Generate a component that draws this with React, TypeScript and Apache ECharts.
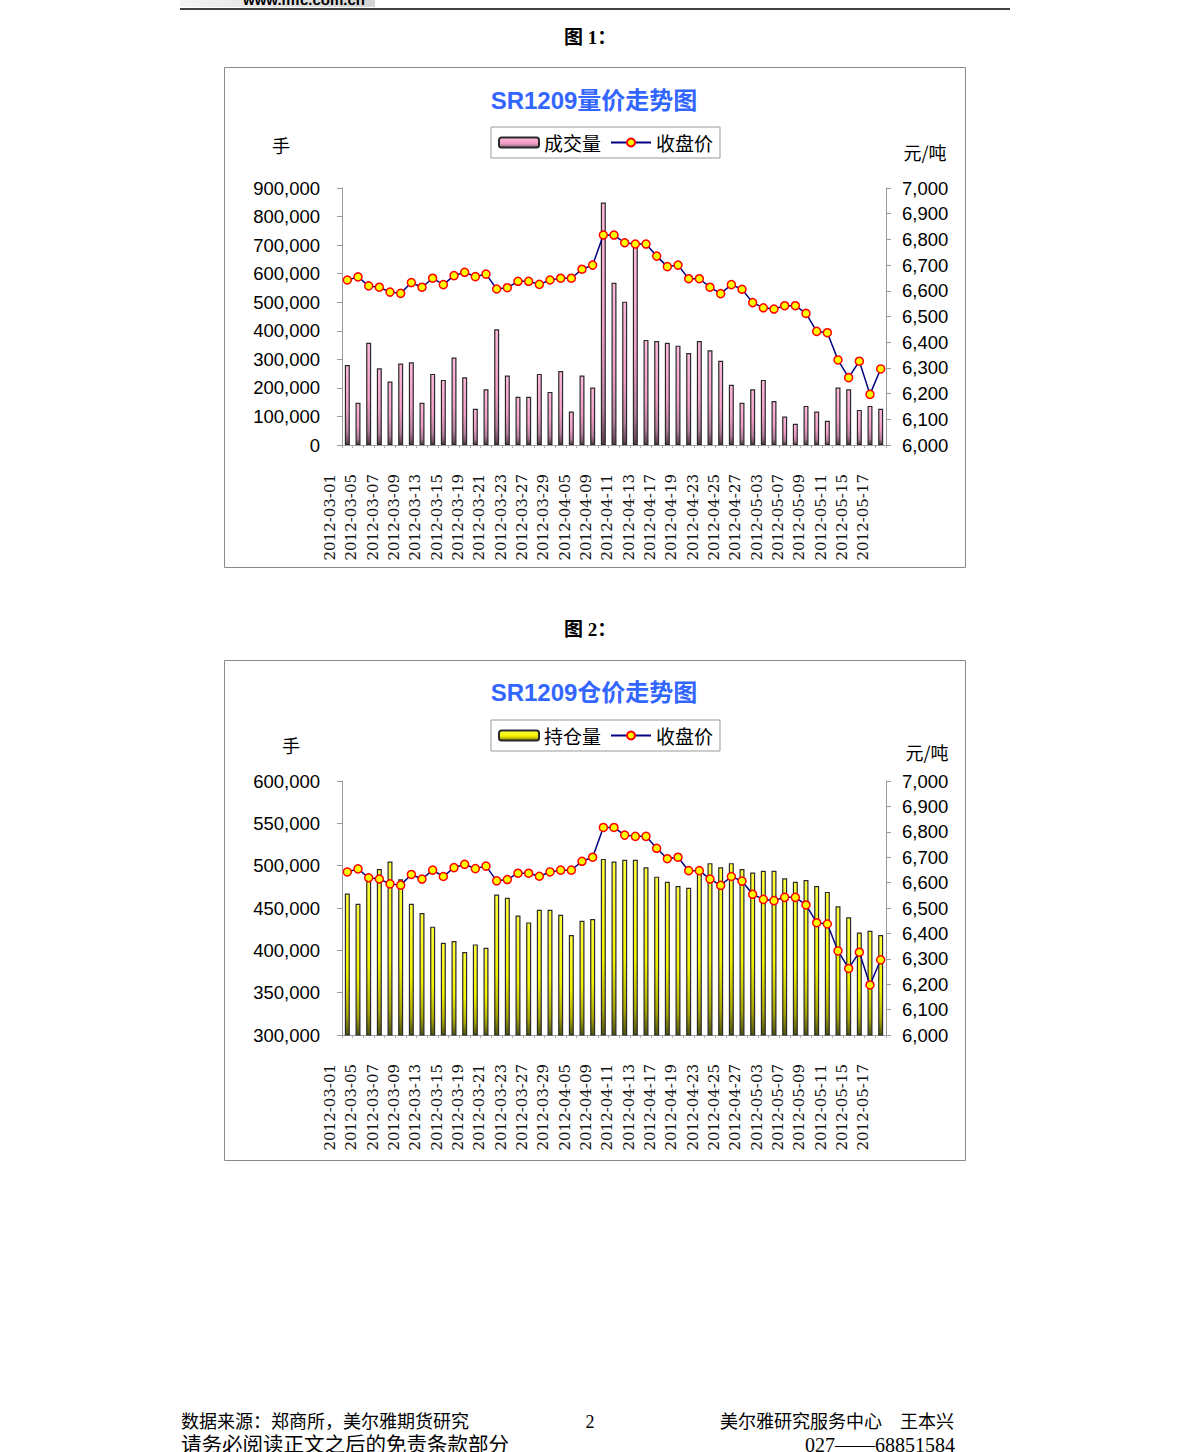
import React, { useEffect, useRef } from "react";
import * as echarts from "echarts";

const dates = [
  "2012-03-01", "2012-03-02", "2012-03-05", "2012-03-06", "2012-03-07", "2012-03-08", "2012-03-09",
  "2012-03-12", "2012-03-13", "2012-03-14", "2012-03-15", "2012-03-16", "2012-03-19", "2012-03-20",
  "2012-03-21", "2012-03-22", "2012-03-23", "2012-03-26", "2012-03-27", "2012-03-28", "2012-03-29",
  "2012-03-30", "2012-04-05", "2012-04-06", "2012-04-09", "2012-04-10", "2012-04-11", "2012-04-12",
  "2012-04-13", "2012-04-16", "2012-04-17", "2012-04-18", "2012-04-19", "2012-04-20", "2012-04-23",
  "2012-04-24", "2012-04-25", "2012-04-26", "2012-04-27", "2012-05-02", "2012-05-03", "2012-05-04",
  "2012-05-07", "2012-05-08", "2012-05-09", "2012-05-10", "2012-05-11", "2012-05-14", "2012-05-15",
  "2012-05-16", "2012-05-17",
];

// 成交量 (手)
const volume = [
  280000, 148000, 358000, 269000, 222000, 285000, 290000, 148000, 249000, 228000, 306000, 237000,
  127000, 195000, 405000, 243000, 169000, 169000, 249000, 186000, 259000, 117000, 243000, 201000,
  849000, 568000, 502000, 703000, 368000, 364000, 358000, 348000, 322000, 364000, 332000, 295000,
  211000, 148000, 195000, 228000, 154000, 100000, 74000, 137000, 117000, 85000, 201000, 195000,
  123000, 137000, 127000,
];

// 持仓量 (手)
const openInterest = [
  467000, 455000, 487000, 496000, 505000, 484000, 455000, 444000, 428000, 409000, 411000, 398000,
  407000, 403000, 466000, 462000, 441000, 433000, 448000, 448000, 442000, 418000, 435000, 437000,
  508000, 505000, 507000, 507000, 498000, 487000, 481000, 476000, 474000, 493000, 503000, 498000,
  503000, 496000, 492000, 494000, 494000, 485000, 481000, 483000, 476000, 469000, 452000, 439000,
  421000, 423000, 418000,
];

// 收盘价 (元/吨)
const closePrice = [
  6642, 6654, 6619, 6614, 6595, 6590, 6632, 6614, 6649, 6624, 6659, 6672, 6655, 6665, 6607, 6612,
  6637, 6637, 6625, 6642, 6649, 6649, 6684, 6700, 6817, 6817, 6787, 6782, 6782, 6735, 6694, 6700,
  6647, 6647, 6614, 6589, 6624, 6606, 6554, 6534, 6529, 6542, 6542, 6512, 6442, 6437, 6331, 6262,
  6326, 6197, 6296,
];

const W = 1191;
const H = 1452;
const CJK = "'Noto Sans CJK SC', sans-serif";
const SERIF_CJK = "'Liberation Serif', 'Noto Sans CJK SC', serif";
const SANS = "'Liberation Sans', Arial, sans-serif";

const fmt = (v: number) => Math.round(v).toLocaleString("en-US");

const pinkGrad = () =>
  new echarts.graphic.LinearGradient(0, 0, 0, 1, [
    { offset: 0, color: "#ffbadc" },
    { offset: 0.55, color: "#f39dc7" },
    { offset: 0.85, color: "#b47d99" },
    { offset: 1, color: "#5a3a4c" },
  ]);
const yellowGrad = () =>
  new echarts.graphic.LinearGradient(0, 0, 0, 1, [
    { offset: 0, color: "#ffff40" },
    { offset: 0.55, color: "#f4f400" },
    { offset: 0.85, color: "#a8a800" },
    { offset: 1, color: "#505010" },
  ]);

function xAxis(gridIndex: number) {
  return {
    type: "category",
    gridIndex,
    data: dates,
    boundaryGap: true,
    axisLine: { show: true, lineStyle: { color: "#999", width: 1 } },
    axisTick: { show: true, interval: 0, length: 3, lineStyle: { color: "#aaa" } },
    axisLabel: {
      interval: 1,
      rotate: 90,
      margin: 29,
      fontFamily: "'DejaVu Serif', 'Liberation Serif', serif",
      fontSize: 15,
      color: "#111",
      verticalAlign: "bottom",
      padding: [0, 0, 10, 0],
    },
    splitLine: { show: false },
  };
}

function yAxis(gridIndex: number, pos: "left" | "right", min: number, max: number, interval: number, margin: number) {
  return {
    type: "value",
    gridIndex,
    position: pos,
    min,
    max,
    interval,
    axisLine: { show: true, lineStyle: { color: "#999", width: 1 } },
    axisTick: { show: true, length: 5, lineStyle: { color: "#999" } },
    axisLabel: {
      margin,
      fontFamily: SANS,
      fontSize: 18.5,
      color: "#000",
      formatter: (v: number) => fmt(v),
    },
    splitLine: { show: false },
  };
}

const lineSeries = (xi: number, yi: number) => ({
  name: "收盘价",
  type: "line",
  xAxisIndex: xi,
  yAxisIndex: yi,
  data: closePrice,
  z: 5,
  symbol: "circle",
  symbolSize: 8,
  showAllSymbol: true,
  lineStyle: { color: "#000080", width: 1.5 },
  itemStyle: { color: "#ffff00", borderColor: "#ff0000", borderWidth: 1.5 },
});

function legend(names: string[], top: number) {
  return {
    show: true,
    selectedMode: false,
    data: names,
    left: 491,
    top,
    orient: "horizontal",
    padding: [6, 7],
    itemGap: 9,
    itemWidth: 40,
    itemHeight: 10,
    backgroundColor: "#fff",
    borderColor: "#999",
    borderWidth: 1,
    borderRadius: 0,
    textStyle: { fontFamily: CJK, fontSize: 19, color: "#000" },
  };
}

function text(x: number, y: number, t: string, style: any = {}) {
  return {
    type: "text",
    x,
    y,
    style: {
      text: t,
      fill: "#000",
      fontFamily: CJK,
      fontSize: 18,
      textAlign: "center",
      textVerticalAlign: "middle",
      ...style,
    },
  };
}

function buildOption() {
  return {
    animation: false,
    backgroundColor: "#fff",
    grid: [
      { left: 342, top: 188, width: 544, height: 257, containLabel: false },
      { left: 342, top: 781, width: 544, height: 254, containLabel: false },
    ],
    xAxis: [xAxis(0), xAxis(1)],
    yAxis: [
      yAxis(0, "left", 0, 900000, 100000, 22),
      yAxis(0, "right", 6000, 7000, 100, 16),
      yAxis(1, "left", 300000, 600000, 50000, 22),
      yAxis(1, "right", 6000, 7000, 100, 16),
    ],
    legend: [legend(["成交量", "收盘价"], 127), legend(["持仓量", "收盘价"], 720)],
    series: [
      {
        name: "成交量",
        type: "bar",
        xAxisIndex: 0,
        yAxisIndex: 0,
        data: volume,
        barWidth: 5,
        itemStyle: { color: pinkGrad(), borderColor: "#2a2a2a", borderWidth: 1.2 },
      },
      lineSeries(0, 1),
      {
        name: "持仓量",
        type: "bar",
        xAxisIndex: 1,
        yAxisIndex: 2,
        data: openInterest,
        barWidth: 5,
        itemStyle: { color: yellowGrad(), borderColor: "#2a2a2a", borderWidth: 1.2 },
      },
      lineSeries(1, 3),
    ],
    graphic: [
      // header
      {
        type: "rect",
        shape: { x: 180, y: 0, width: 195, height: 7 },
        style: {
          fill: new echarts.graphic.LinearGradient(0, 0, 1, 0, [
            { offset: 0, color: "#f4f4f4" },
            { offset: 1, color: "#d4d4d4" },
          ]),
        },
      },
      text(243, -1, "www.mfc.com.cn", { textAlign: "left", fontFamily: SANS, fontWeight: "bold", fontSize: 15 }),
      {
        type: "line",
        shape: { x1: 180, y1: 9, x2: 1010, y2: 9 },
        style: { stroke: "#000", lineWidth: 1.5 },
      },
      text(590, 37, "图 1：", { fontFamily: SERIF_CJK, fontSize: 19, fontWeight: "bold" }),
      text(590, 629, "图 2：", { fontFamily: SERIF_CJK, fontSize: 19, fontWeight: "bold" }),
      // chart frames
      {
        type: "rect",
        shape: { x: 224.5, y: 67.5, width: 741, height: 500 },
        style: { fill: "none", stroke: "#8a8a8a", lineWidth: 1 },
      },
      {
        type: "rect",
        shape: { x: 224.5, y: 660.5, width: 741, height: 500 },
        style: { fill: "none", stroke: "#8a8a8a", lineWidth: 1 },
      },
      // titles
      text(594, 100, "SR1209量价走势图", { fontFamily: "'Liberation Sans', 'Noto Sans CJK SC', sans-serif", fontWeight: "bold", fontSize: 24, fill: "#3366ff" }),
      text(594, 692, "SR1209仓价走势图", { fontFamily: "'Liberation Sans', 'Noto Sans CJK SC', sans-serif", fontWeight: "bold", fontSize: 24, fill: "#3366ff" }),
      // axis units
      text(281, 145, "手", { fontSize: 18 }),
      text(925, 152, "元/吨", { fontSize: 18 }),
      text(291, 745, "手", { fontSize: 18 }),
      text(927, 752, "元/吨", { fontSize: 18 }),
      // footer
      text(181, 1422, "数据来源：郑商所，美尔雅期货研究", { textAlign: "left", fontFamily: SERIF_CJK, fontSize: 18 }),
      text(590, 1422, "2", { fontFamily: SERIF_CJK, fontSize: 18 }),
      text(954, 1422, "美尔雅研究服务中心　王本兴", { textAlign: "right", fontFamily: SERIF_CJK, fontSize: 18 }),
      text(181, 1445, "请务必阅读正文之后的免责条款部分", { textAlign: "left", fontFamily: SERIF_CJK, fontSize: 20.5 }),
      text(955, 1445, "027——68851584", { textAlign: "right", fontFamily: SERIF_CJK, fontSize: 20 }),
    ],
  };
}

export default function App() {
  const ref = useRef<HTMLDivElement>(null);
  useEffect(() => {
    if (!ref.current) return;
    const chart = echarts.init(ref.current, null, { renderer: "svg" });
    chart.setOption(buildOption() as any);
    return () => chart.dispose();
  }, []);
  return (
    <div
      ref={ref}
      style={{ position: "absolute", left: 0, top: 0, width: W, height: H, background: "#fff" }}
    />
  );
}
